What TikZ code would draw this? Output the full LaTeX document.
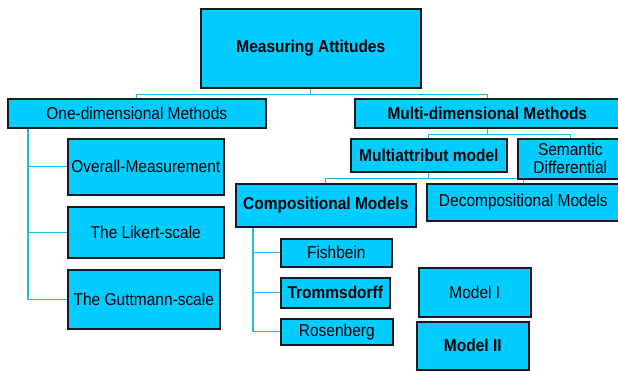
\documentclass[tikz,border=0pt]{standalone}
\usepackage{fontspec}
\setmainfont{Liberation Sans}[FakeStretch=0.9]
\usetikzlibrary{backgrounds}
\definecolor{boxcyan}{HTML}{00CCFF}
\definecolor{linkblue}{HTML}{22B8EE}
\begin{document}
\begin{tikzpicture}[x=1pt,y=-1pt]
\tikzstyle{box}=[draw=black!90,line width=1.6pt,fill=boxcyan,anchor=north west,inner sep=0pt,align=center,font=\fontsize{17.2}{18}\selectfont]
\tikzstyle{bbox}=[box,font=\fontsize{17.2}{18}\selectfont\bfseries]
\tikzstyle{link}=[draw=linkblue,line width=1.3pt]
\useasboundingbox (0,0) rectangle (618,371);
\node[bbox,minimum width=220pt,minimum height=79pt] (att) at (200,8) {Measuring Attitudes};
\node[box,minimum width=258pt,minimum height=29pt] (one) at (7,98) {One-dimensional Methods};
\node[bbox,minimum width=265pt,minimum height=29pt] (multi) at (354,98) {Multi-dimensional Methods};
\node[box,minimum width=156pt,minimum height=56pt] (overall) at (67,138) {Overall-Measurement};
\node[box,minimum width=156pt,minimum height=51pt] (likert) at (67,206) {The Likert-scale};
\node[box,minimum width=152pt,minimum height=59pt] (guttmann) at (67,269) {The Guttmann-scale};
\node[bbox,minimum width=156pt,minimum height=33pt] (mattr) at (350,138) {Multiattribut model};
\node[box,minimum width=105pt,minimum height=40pt] (sem) at (517,138) {Semantic\\Differential};
\node[bbox,minimum width=180pt,minimum height=43pt] (comp) at (235,183) {Compositional Models};
\node[box,minimum width=193pt,minimum height=37pt] (decomp) at (426,183) {Decompositional Models};
\node[box,minimum width=111pt,minimum height=28pt] (fish) at (280,238) {Fishbein};
\node[bbox,minimum width=109pt,minimum height=30pt] (tromm) at (280,277) {Trommsdorff};
\node[box,minimum width=112pt,minimum height=26pt] (rosen) at (280,318) {Rosenberg};
\node[box,minimum width=112pt,minimum height=49pt] (modelA) at (418,267) {Model I};
\node[bbox,minimum width=112pt,minimum height=48pt] (modelB) at (416,321) {Model II};
\begin{scope}[on background layer]
\draw[link] (att.south) -- ++(0,6) coordinate (j1) -| (one.north);
\draw[link] (j1) -| (multi.north);
\coordinate (o0) at (28,127);
\draw[link] (o0) |- (overall.west);
\draw[link] (o0) |- (likert.west);
\draw[link] (o0) |- (guttmann.west);
\draw[link] (multi.south) -- ++(0,6) coordinate (j2) -| (mattr.north);
\draw[link] (j2) -| (sem.north);
\draw[link] (mattr.south) -- ++(0,6) coordinate (j3) -| (comp.north);
\draw[link] (j3) -| (decomp.north);
\coordinate (c0) at (253,226);
\draw[link] (c0) |- (fish.west);
\draw[link] (c0) |- (tromm.west);
\draw[link] (c0) |- (rosen.west);
\end{scope}
\end{tikzpicture}
\end{document}
